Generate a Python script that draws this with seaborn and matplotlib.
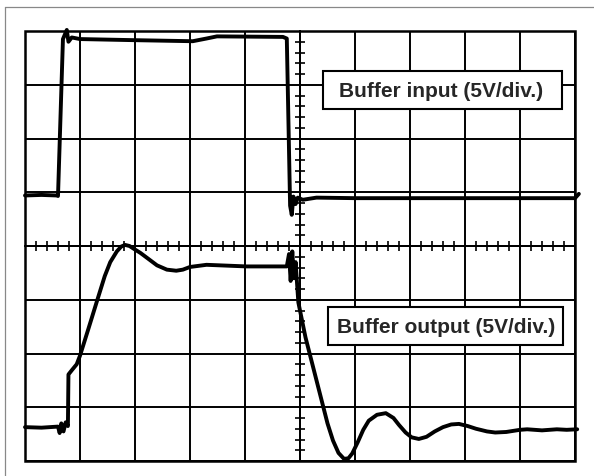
import numpy as np
import pandas as pd
import matplotlib
matplotlib.use("Agg")
import matplotlib.pyplot as plt
from matplotlib.ticker import MultipleLocator
from matplotlib.patches import Rectangle
from matplotlib.lines import Line2D
import seaborn as sns

# ---- data (oscilloscope divisions) ----
input_t = [0.0, 0.3, 0.58, 0.6, 0.69, 0.76, 0.79, 0.85, 1.0, 1.96, 3.05, 3.3, 3.49, 4.69, 4.76,
           4.82, 4.85, 4.88, 4.92, 4.96, 5.05, 5.3, 6.0, 7.0, 8.0, 9.0, 10.0, 10.07]
input_v = [0.94, 0.95, 0.94, 0.93, 3.85, 4.02, 3.8, 3.88, 3.85, 3.83, 3.81, 3.86, 3.9, 3.89, 3.86,
           0.75, 0.58, 0.92, 0.78, 0.9, 0.86, 0.9, 0.89, 0.89, 0.89, 0.89, 0.89, 0.97]

output_t = [0.0, 0.3, 0.6, 0.63, 0.66, 0.7, 0.74, 0.78, 0.79, 0.86, 0.94, 1.0, 1.15, 1.31,
            1.45, 1.55, 1.67, 1.75, 1.82, 1.9, 1.96, 2.1, 2.27, 2.4, 2.58, 2.75, 2.87, 3.0,
            3.3, 4.03, 4.76, 4.8, 4.83, 4.86, 4.89, 4.92, 4.97, 5.1, 5.25, 5.4, 5.5, 5.6,
            5.7, 5.8, 5.88, 5.95, 6.05, 6.15, 6.25, 6.4, 6.56, 6.7, 6.8, 6.92, 7.03, 7.16,
            7.3, 7.45, 7.6, 7.75, 7.89, 8.05, 8.2, 8.4, 8.55, 8.75, 9.0, 9.13, 9.4, 9.67,
            9.85, 10.04]
output_v = [-3.37, -3.38, -3.36, -3.48, -3.3, -3.45, -3.28, -3.35, -2.39, -2.3, -2.2, -2.04,
            -1.55, -1.02, -0.56, -0.3, -0.1, -0.01, 0.02, 0.0, -0.04, -0.13, -0.26, -0.36,
            -0.44, -0.46, -0.44, -0.39, -0.35, -0.38, -0.38, -0.15, -0.65, -0.1, -0.6, -0.3,
            -1.05, -1.7, -2.3, -2.9, -3.3, -3.62, -3.85, -3.96, -3.95, -3.86, -3.65, -3.42,
            -3.25, -3.14, -3.11, -3.2, -3.33, -3.47, -3.56, -3.59, -3.55, -3.45, -3.37,
            -3.32, -3.31, -3.35, -3.4, -3.45, -3.47, -3.46, -3.42, -3.41, -3.43, -3.41,
            -3.42, -3.41]

labels = ["Buffer input (5V/div.)", "Buffer output (5V/div.)"]

sns.set_theme(style="white")
plt.rcParams['font.family'] = ['Liberation Sans', 'DejaVu Sans']

fig = plt.figure(figsize=(5.94, 4.77), dpi=100)
ax = fig.add_axes([25 / 594, 15 / 477, 550 / 594, 430 / 477])

df_in = pd.DataFrame({"t": input_t, "v": input_v})
df_out = pd.DataFrame({"t": output_t, "v": output_v})
for d in (df_in, df_out):
    sns.lineplot(data=d, x="t", y="v", ax=ax, sort=False, estimator=None,
                 color="black", linewidth=2.8, zorder=5, clip_on=False)

ax.set_xlim(0, 10)
ax.set_ylim(-4, 4)
ax.xaxis.set_major_locator(MultipleLocator(1))
ax.yaxis.set_major_locator(MultipleLocator(1))
ax.xaxis.set_minor_locator(MultipleLocator(0.2))
ax.yaxis.set_minor_locator(MultipleLocator(0.2))
ax.grid(True, which="major", color="black", linewidth=1.4)
ax.set_axisbelow(True)

# centre axes with graduations
ax.spines['left'].set_position(('data', 5))
ax.spines['bottom'].set_position(('data', 0))
for s in ('top', 'right'):
    ax.spines[s].set_visible(False)
for s in ('left', 'bottom'):
    ax.spines[s].set_color('black')
    ax.spines[s].set_linewidth(1.4)
ax.tick_params(which='minor', direction='inout', length=7, width=1.2, color='black',
               left=True, bottom=True)
ax.tick_params(which='major', length=0, labelleft=False, labelbottom=False)
ax.set_xlabel("")
ax.set_ylabel("")

# outer graticule border
ax.add_patch(Rectangle((0, 0), 1, 1, transform=ax.transAxes, fill=False,
                       edgecolor='black', linewidth=1.8, zorder=4, clip_on=False))

# label boxes
ax.add_patch(Rectangle((5.42, 2.55), 4.34, 0.71, facecolor='white', edgecolor='black',
                       linewidth=1.5, zorder=6))
ax.text(7.57, 2.9, labels[0], ha='center', va='center', fontsize=15,
        fontweight='bold', zorder=7)
ax.add_patch(Rectangle((5.51, -1.84), 4.27, 0.71, facecolor='white', edgecolor='black',
                       linewidth=1.5, zorder=6))
ax.text(7.66, -1.49, labels[1], ha='center', va='center', fontsize=15,
        fontweight='bold', zorder=7)

# thin outer page frame
fig.add_artist(Line2D([5 / 594, 1.0], [1 - 8 / 477, 1 - 8 / 477], color='#888888', linewidth=0.9))
fig.add_artist(Line2D([5 / 594, 5 / 594], [0.0, 1 - 8 / 477], color='#888888', linewidth=0.9))

fig.savefig("out.png", dpi=100, facecolor='white')
